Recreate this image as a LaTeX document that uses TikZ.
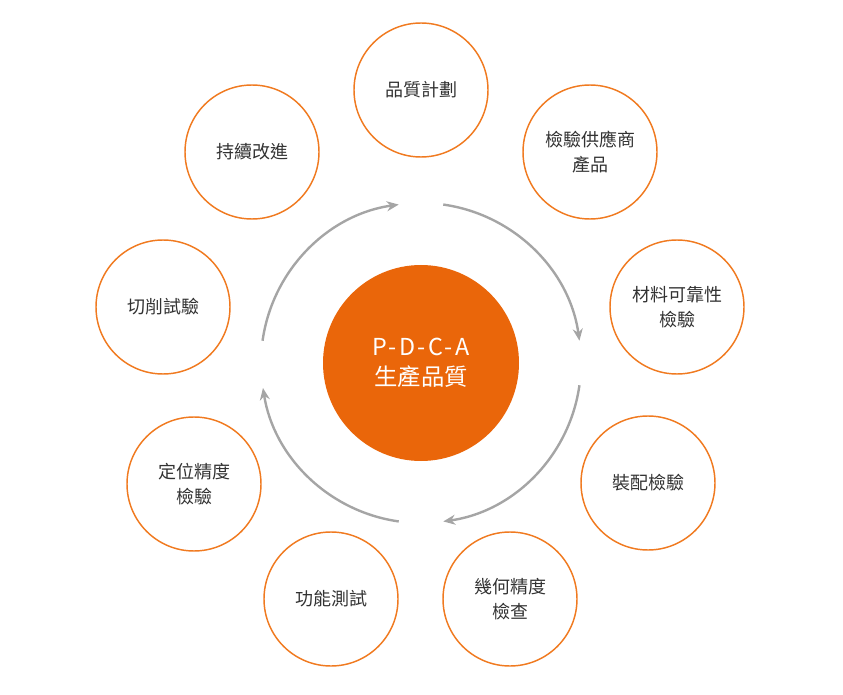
\documentclass[tikz,border=0pt]{standalone}
\usepackage{fontspec}
\setmainfont{Noto Sans CJK TC}
\usetikzlibrary{arrows.meta}
\definecolor{pdcaorange}{RGB}{234,102,10}
\definecolor{ringorange}{RGB}{240,122,32}
\definecolor{labelgray}{RGB}{50,50,50}
\definecolor{turngray}{RGB}{165,165,165}

\begin{document}
\begin{tikzpicture}[x=0.75pt,y=0.75pt,
  stage/.style={circle,draw=ringorange,line width=1.1pt,minimum size=100.5pt,
    inner sep=0pt,align=center,text=labelgray,font=\fontsize{13.5}{19}\selectfont},
  hub/.style={circle,fill=pdcaorange,minimum size=147pt,inner sep=0pt,
    align=center,text=white,font=\fontsize{17.5}{22}\selectfont},
  turnarrow/.style={turngray,line width=1.8pt,-{Stealth[length=9pt,width=7.5pt]}}]
  \useasboundingbox (0,0) rectangle (843,694);

  % centre of the cycle
  \node[hub] (core) at (421,331) {{\addfontfeatures{LetterSpace=10}P-D-C-A}\\生產品質};

  % stages round the centre
  \node[stage] (plan)     at (421,604) {品質計劃};
  \node[stage] (supplier) at (590,542) {檢驗供應商\\產品};
  \node[stage] (material) at (677,387) {材料可靠性\\檢驗};
  \node[stage] (assembly) at (648,211) {裝配檢驗};
  \node[stage] (geometry) at (510,95)  {幾何精度\\檢查};
  \node[stage] (function) at (331,95)  {功能測試};
  \node[stage] (position) at (194,210) {定位精度\\檢驗};
  \node[stage] (cutting)  at (163,387) {切削試驗};
  \node[stage] (improve)  at (252,542) {持續改進};

  % clockwise arrows round the centre
  \draw[turnarrow] ([shift={(172:160)}]core.center) arc[start angle=172,end angle=98,radius=160];
  \draw[turnarrow] ([shift={(82:160)}]core.center)  arc[start angle=82,end angle=8,radius=160];
  \draw[turnarrow] ([shift={(-8:160)}]core.center)  arc[start angle=-8,end angle=-82,radius=160];
  \draw[turnarrow] ([shift={(-98:160)}]core.center) arc[start angle=-98,end angle=-171,radius=160];
\end{tikzpicture}
\end{document}
